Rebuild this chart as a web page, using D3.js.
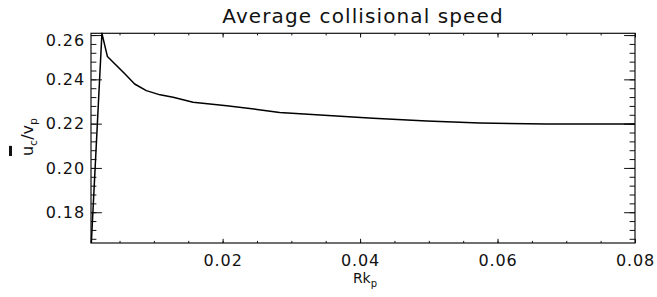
<!DOCTYPE html>
<html>
<head>
<meta charset="utf-8">
<script src="https://cdn.jsdelivr.net/npm/d3@7"></script>
<style>
  body { margin: 0; background: #fff; }
  svg { display: block; }
  text { font-family: "DejaVu Sans", sans-serif; fill: #111; }
</style>
</head>
<body>
<svg id="chart" width="657" height="297"></svg>
<script>
// ---- data ----
const rk = [0.0009, 0.00244, 0.00324, 0.0058, 0.0072, 0.0089, 0.0109, 0.0128, 0.0157, 0.0206, 0.0250, 0.0283, 0.0342, 0.0419, 0.0497, 0.0574, 0.0672, 0.0800];
const speed = [0.1661, 0.2608, 0.2503, 0.2424, 0.2379, 0.2349, 0.2330, 0.2319, 0.2297, 0.2281, 0.2264, 0.2250, 0.2239, 0.2224, 0.2212, 0.2203, 0.2198, 0.2198];
const xMajorTicks = [0.02, 0.04, 0.06, 0.08];
const xTickLabels = ["0.02", "0.04", "0.06", "0.08"];
const yMajorTicks = [0.18, 0.20, 0.22, 0.24, 0.26];
const yTickLabels = ["0.18", "0.20", "0.22", "0.24", "0.26"];
const xMinorStep = 0.005;
const yMinorStep = 0.004;
const xDomain = [0.00085, 0.08];
const yDomain = [0.1661, 0.2608];
const titleText = "Average collisional speed";

// ---- layout ----
const svg = d3.select("#chart");
const L = 91, R = 635, T = 33.3, B = 243;
const x = d3.scaleLinear().domain(xDomain).range([L, R]);
const y = d3.scaleLinear().domain(yDomain).range([B, T]);

const xMinor = d3.range(xMinorStep, xDomain[1] + 1e-9, xMinorStep).filter(v => v >= xDomain[0]);
const yMinor = d3.range(0.168, yDomain[1] + 1e-9, yMinorStep).filter(v => v >= yDomain[0]);

const xMajLen = 4.2, xMinLen = 2.1, yMajLen = 10.9, yMinLen = 5.4;
const fs = 16;

function styleLabels(g) {
  g.selectAll("text").style("font-size", fs + "px").style("font-family", "DejaVu Sans")
    .style("letter-spacing", "0.9px").attr("fill", "#111");
}

// bottom axis (labels)
const gb = svg.append("g").attr("transform", `translate(0,${B})`)
  .call(d3.axisBottom(x).tickValues(xMajorTicks).tickSize(-xMajLen).tickPadding(12)
        .tickFormat((d, i) => xTickLabels[i]));
gb.select(".domain").remove();
styleLabels(gb);
gb.append("g").call(d3.axisBottom(x).tickValues(xMinor).tickSize(-xMinLen).tickFormat(""))
  .select(".domain").remove();

// top axis (ticks only)
const gt = svg.append("g").attr("transform", `translate(0,${T})`);
gt.call(d3.axisTop(x).tickValues(xMajorTicks).tickSize(-xMajLen).tickFormat(""));
gt.select(".domain").remove();
gt.append("g").call(d3.axisTop(x).tickValues(xMinor).tickSize(-xMinLen).tickFormat("")).select(".domain").remove();

// left axis (labels)
const gl = svg.append("g").attr("transform", `translate(${L},0)`)
  .call(d3.axisLeft(y).tickValues(yMajorTicks).tickSize(-yMajLen).tickPadding(6)
        .tickFormat((d, i) => yTickLabels[i]));
gl.select(".domain").remove();
styleLabels(gl);
// keep top label inside like the reference
gl.selectAll(".tick").each(function(d) {
  const ty = y(d);
  if (ty < T + 7) d3.select(this).select("text").attr("y", T + 7 - ty);
});
gl.append("g").call(d3.axisLeft(y).tickValues(yMinor).tickSize(-yMinLen).tickFormat("")).select(".domain").remove();

// right axis (ticks only)
const gr = svg.append("g").attr("transform", `translate(${R},0)`);
gr.call(d3.axisRight(y).tickValues(yMajorTicks).tickSize(-yMajLen).tickFormat(""));
gr.select(".domain").remove();
gr.append("g").call(d3.axisRight(y).tickValues(yMinor).tickSize(-yMinLen).tickFormat("")).select(".domain").remove();

svg.selectAll(".tick line").attr("stroke", "#111").attr("stroke-width", 1);

// frame
svg.append("rect").attr("x", L).attr("y", T).attr("width", R - L).attr("height", B - T)
  .attr("fill", "none").attr("stroke", "#111").attr("stroke-width", 1.2);

// curve
const line = d3.line().x((d, i) => x(rk[i])).y(d => y(d));
svg.append("path").datum(speed).attr("d", line)
  .attr("fill", "none").attr("stroke", "#000").attr("stroke-width", 1.5).attr("stroke-linejoin", "round");

// title
svg.append("text").attr("x", (L + R) / 2).attr("y", 23).attr("text-anchor", "middle")
  .style("font-size", "20px").style("letter-spacing", "1.1px").text(titleText);

// x label
const xl = svg.append("text").attr("x", (L + R) / 2 + 2).attr("y", 283).attr("text-anchor", "middle")
  .style("font-size", "14px");
xl.append("tspan").text("Rk");
xl.append("tspan").attr("dy", 4).style("font-size", "10px").text("p");

// y label (rotated) with overbar on u
const yg = svg.append("g").attr("transform", "translate(33,137) rotate(-90)");
const yt = yg.append("text").attr("x", 0).attr("y", 0).style("font-size", "16px");
yt.append("tspan").text("u");
yt.append("tspan").attr("dy", 4).style("font-size", "11px").text("c");
yt.append("tspan").attr("dy", -4).text("/v");
yt.append("tspan").attr("dy", 4).style("font-size", "11px").text("p");
const tot = yt.node().getComputedTextLength();
yt.attr("x", -tot / 2);
const ext = yt.node().getExtentOfChar(0);
yg.append("rect").attr("x", ext.x).attr("y", -24).attr("width", ext.width).attr("height", 3).attr("fill", "#111");
</script>
</body>
</html>
